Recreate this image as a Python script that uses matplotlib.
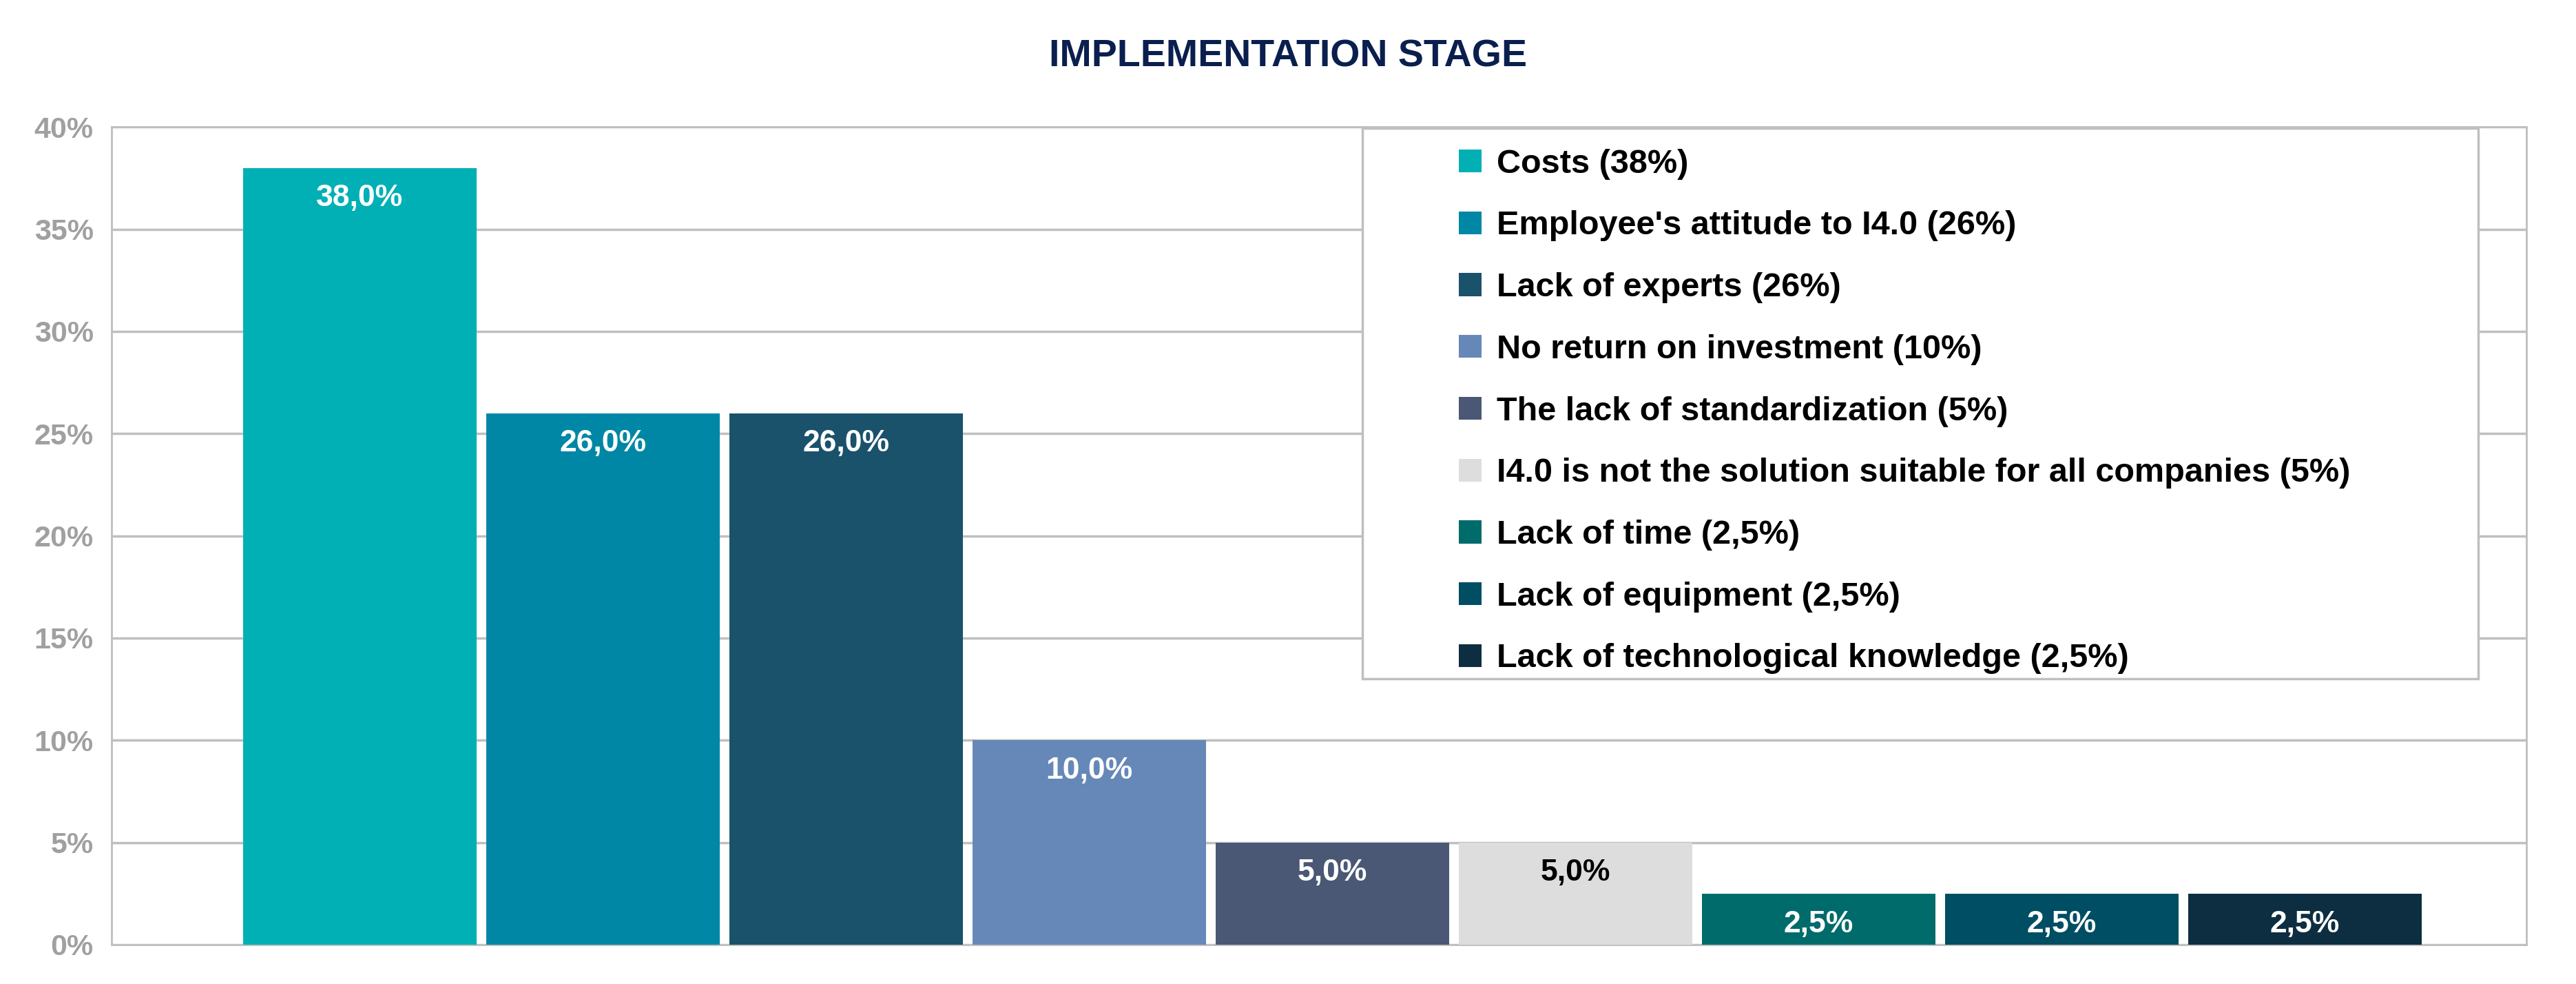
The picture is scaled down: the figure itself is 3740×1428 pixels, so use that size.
import matplotlib
matplotlib.use('Agg')
import matplotlib.pyplot as plt
from matplotlib.patches import Patch, Rectangle

# Chart data
categories = [
    "Costs (38%)",
    "Employee's attitude to I4.0 (26%)",
    "Lack of experts (26%)",
    "No return on investment (10%)",
    "The lack of standardization (5%)",
    "I4.0 is not the solution suitable for all companies (5%)",
    "Lack of time (2,5%)",
    "Lack of equipment (2,5%)",
    "Lack of technological knowledge (2,5%)",
]
values = [38.0, 26.0, 26.0, 10.0, 5.0, 5.0, 2.5, 2.5, 2.5]
colors = ['#00B0B5', '#0087A6', '#1A526B', '#6688B8', '#4A5875',
          '#DDDDDD', '#006B6B', '#004E63', '#0D2E40']
label_colors = ['white', 'white', 'white', 'white', 'white',
                'black', 'white', 'white', 'white']
yticks = [0, 5, 10, 15, 20, 25, 30, 35, 40]

plt.rcParams['font.family'] = ['Liberation Sans Narrow', 'Liberation Sans', 'DejaVu Sans']
plt.rcParams['font.weight'] = 'bold'

grid_col = '#BFBFBF'

fig = plt.figure(figsize=(37.4, 14.28), dpi=100)
ax = fig.add_axes([0.0433, 0.040, 0.9374, 0.831])

x = list(range(len(values)))
bars = ax.bar(x, values, width=0.96, color=colors, zorder=3)

# value labels inside the top of each bar
for b, v, c in zip(bars, values, label_colors):
    ax.annotate(f"{v:.1f}".replace('.', ',') + '%',
                xy=(b.get_x() + b.get_width() / 2, v), xytext=(0, -32),
                textcoords='offset points', ha='center', va='center',
                fontsize=32, fontweight='bold', color=c, zorder=4)

ax.set_xlim(-1.02, 8.91)
ax.set_ylim(0, 40)
ax.set_yticks(yticks)
ax.set_yticklabels([f"{t}%" for t in yticks])
ax.set_xticks([])
ax.tick_params(axis='y', length=0, pad=19, labelsize=31, labelcolor='#A0A0A0')
for lab in ax.get_yticklabels():
    lab.set_fontweight('bold')
ax.yaxis.grid(True, color=grid_col, linewidth=2.5, zorder=0)
ax.set_axisbelow(True)
for s in ax.spines.values():
    s.set_color(grid_col)
    s.set_linewidth(2)

fig.text(0.5, 0.942, "IMPLEMENTATION STAGE", ha='center', va='center',
         fontsize=40, fontweight='bold', color='#0A1F4E')

# legend box
box = Rectangle((0.529, 0.310), 0.433, 0.560, transform=fig.transFigure,
                facecolor='white', edgecolor=grid_col, linewidth=2.5, zorder=2)
fig.patches.append(box)

handles = [Patch(facecolor=c, edgecolor='none') for c in colors]
fig.legend(handles, categories, loc='upper left', bbox_to_anchor=(0.5663, 0.849),
           frameon=False, fontsize=35, handlelength=0.68, handleheight=0.68,
           handletextpad=0.45, labelspacing=0.92, borderpad=0, borderaxespad=0)

fig.savefig('out.png', dpi=100)
